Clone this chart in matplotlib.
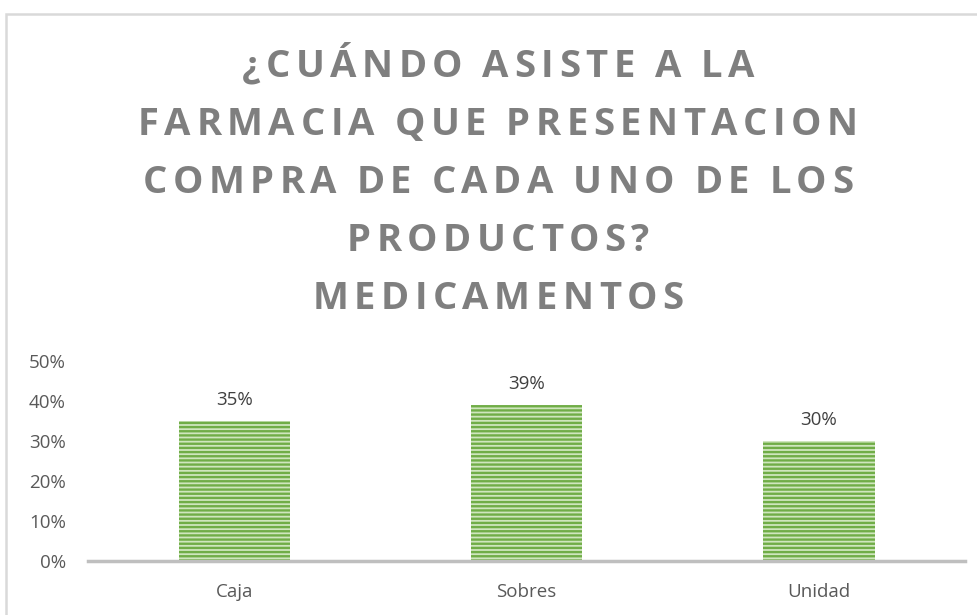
import matplotlib
matplotlib.use("Agg")
import matplotlib.pyplot as plt
from matplotlib.patches import Rectangle

categories = ["Caja", "Sobres", "Unidad"]
values = [0.35, 0.39, 0.30]
labels = ["35%", "39%", "30%"]
yticks = [0, 0.1, 0.2, 0.3, 0.4, 0.5]
yticklabels = ["0%", "10%", "20%", "30%", "40%", "50%"]
title_lines = ["¿CUÁNDO ASISTE A LA", "FARMACIA QUE PRESENTACION",
               "COMPRA DE CADA UNO DE LOS", "PRODUCTOS?", "MEDICAMENTOS"]

W, H = 977, 615
plt.rcParams['hatch.linewidth'] = 1.7
fig = plt.figure(figsize=(W / 100, H / 100), dpi=100)
ax = fig.add_axes([0.090, 0.0878, 0.898, 0.325])

x = range(len(categories))
ax.bar(x, values, width=0.38, color="#CFE6BE", edgecolor="#70AD47",
       linewidth=0, hatch="----")
for xi, v, l in zip(x, values, labels):
    ax.annotate(l, (xi, v), xytext=(0, 9), textcoords="offset points",
                ha="center", va="bottom", fontsize=13.5, color="#404040",
                family="Open Sans")
ax.set_xlim(-0.5, 2.5)
ax.set_ylim(0, 0.5)
ax.set_yticks(yticks)
ax.set_yticklabels(yticklabels, fontsize=13.5, color="#595959", family="Open Sans")
ax.set_xticks(list(x))
ax.set_xticklabels(categories, fontsize=13.5, color="#595959", family="Open Sans")
ax.tick_params(axis='y', length=0, pad=16)
ax.tick_params(axis='x', length=0, pad=16)
for s in ["top", "right", "left"]:
    ax.spines[s].set_visible(False)
ax.spines["bottom"].set_color("#BFBFBF")
ax.spines["bottom"].set_linewidth(2.5)

# letter-spaced title
renderer = fig.canvas.get_renderer()
tracking = 5.5  # px
props = dict(fontsize=27.5, fontweight="bold", color="#7F7F7F", family="Open Sans")
baselines = [77, 135, 193, 251, 309]
cx = 498
for line, yb in zip(title_lines, baselines):
    widths = []
    for ch in line:
        t = fig.text(0, 0, "n" if ch == " " else ch, **props)
        wch = t.get_window_extent(renderer).width
        if ch == " ":
            wch *= 0.35
        t.remove()
        widths.append(wch)
    total = sum(widths) + tracking * (len(line) - 1)
    px = cx - total / 2
    for ch, wch in zip(line, widths):
        if ch != " ":
            fig.text(px / W, 1 - yb / H, ch, ha="left", va="baseline", **props)
        px += wch + tracking

fig.patches.append(Rectangle((0.0065, -0.1), 1.2, 0.1 + 1 - 14 / H,
                             transform=fig.transFigure, fill=False,
                             edgecolor="#D9D9D9", linewidth=1.8))
fig.savefig("out.png", dpi=100)
